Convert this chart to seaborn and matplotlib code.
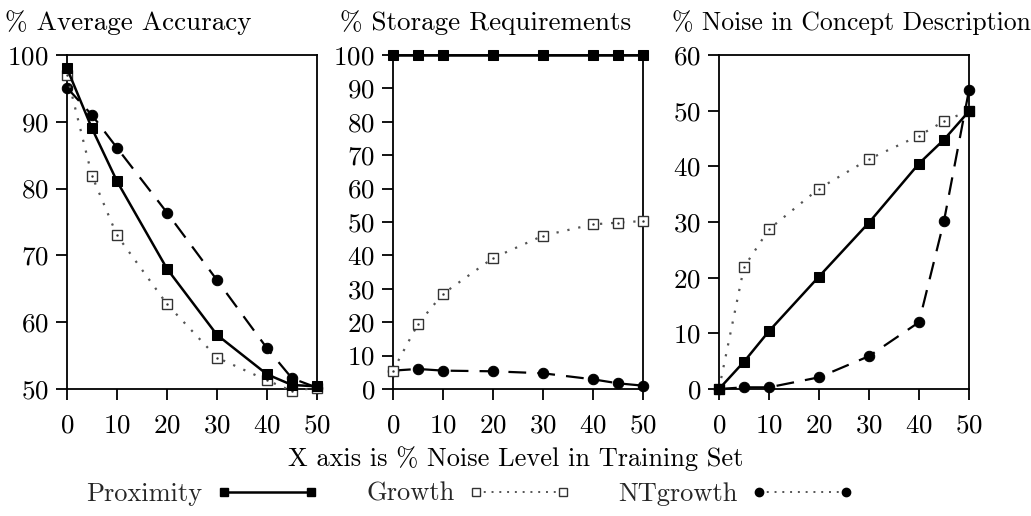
import numpy as np
import pandas as pd
import matplotlib
matplotlib.use("Agg")
import matplotlib.pyplot as plt
import seaborn as sns
from matplotlib.lines import Line2D

sns.set_theme(style="white")
plt.rcParams['font.family'] = ['cmr10', 'DejaVu Serif']
plt.rcParams['axes.formatter.use_mathtext'] = True

noise = [0, 5, 10, 20, 30, 40, 45, 50]

acc_proximity = [98.0, 89.0, 81.1, 68.0, 58.1, 52.2, 50.6, 50.4]
acc_growth = [97.0, 81.9, 73.0, 62.7, 54.7, 51.3, 49.7, 50.2]
acc_ntgrowth = [95.1, 91.0, 86.1, 76.4, 66.3, 56.1, 51.6, 50.2]

sto_proximity = [100, 100, 100, 100, 100, 100, 100, 100]
sto_growth = [5.5, 19.5, 28.5, 39.2, 45.9, 49.3, 49.8, 50.3]
sto_ntgrowth = [5.5, 6.0, 5.5, 5.3, 4.7, 2.9, 1.7, 1.0]

noi_proximity = [0.0, 4.9, 10.4, 20.2, 29.9, 40.5, 44.8, 49.9]
noi_growth = [0.0, 21.9, 28.7, 36.0, 41.3, 45.5, 48.1, 50.0]
noi_ntgrowth = [0.0, 0.3, 0.3, 2.1, 5.9, 12.0, 30.2, 53.7]

titles = ["% Average Accuracy", "% Storage Requirements", "% Noise in Concept Description"]
ylims = [(50, 100), (0, 100), (0, 60)]
yticks = [list(range(50, 101, 10)), list(range(0, 101, 10)), list(range(0, 61, 10))]
xticks = [0, 10, 20, 30, 40, 50]
series_names = ["Proximity", "Growth", "NTgrowth"]
xlabel = "X axis is % Noise Level in Training Set"

panels = [
    (acc_proximity, acc_growth, acc_ntgrowth),
    (sto_proximity, sto_growth, sto_ntgrowth),
    (noi_proximity, noi_growth, noi_ntgrowth),
]

W, H = 1031, 516
fig = plt.figure(figsize=(W / 100, H / 100), dpi=100)

lefts = [67, 393, 719]
title_x = [5, 340, 672]
title_fs = [19.5, 19.5, 18.5]
fs_tick = 19.5
fs2 = 19

for i, (prox, grow, ntg) in enumerate(panels):
    ax = fig.add_axes([lefts[i] / W, (H - 389) / H, 250 / W, 334 / H])
    # NTgrowth: dashed line with filled circles
    sns.lineplot(x=noise, y=ntg, ax=ax, color="black", linestyle=(0, (8, 5)), linewidth=1.6,
                 marker="o", markersize=7.5, markerfacecolor="black", markeredgecolor="black",
                 clip_on=False, zorder=3)
    # Growth: dotted line with open squares having a dot
    sns.lineplot(x=noise, y=grow, ax=ax, color="#555555", linestyle=(0, (1, 4)), linewidth=1.6,
                 marker="s", markersize=7.5, markerfacecolor="white", markeredgecolor="#333333",
                 markeredgewidth=1.0, clip_on=False, zorder=4)
    sns.scatterplot(x=noise, y=grow, ax=ax, color="#333333", s=3, linewidth=0, clip_on=False, zorder=5)
    # Proximity: solid line with filled squares
    sns.lineplot(x=noise, y=prox, ax=ax, color="black", linestyle="-", linewidth=1.8,
                 marker="s", markersize=7.5, markerfacecolor="black", markeredgecolor="black",
                 clip_on=False, zorder=6)

    ax.set_xlim(0, 50)
    ax.set_ylim(*ylims[i])
    ax.set_xticks(xticks)
    ax.set_yticks(yticks[i])
    ax.set_xlabel("")
    ax.set_ylabel("")
    for sp in ax.spines.values():
        sp.set_visible(True)
        sp.set_color("black")
        sp.set_linewidth(1.3)
    ax.tick_params(axis="both", direction="out", length=8, width=1.3, colors="black",
                   labelsize=fs_tick, pad=5, bottom=True, left=True)
    ax.tick_params(axis="x", pad=10)
    fig.text(title_x[i] / W, 1 - 30 / H, titles[i], fontsize=title_fs[i], ha="left", va="baseline",
             color="black")

fig.text(516 / W, 1 - 466 / H, xlabel, fontsize=fs2, ha="center", va="baseline", color="black")

handles = [
    Line2D([0, 1], [0, 0], color="black", linestyle="-", linewidth=1.8, marker="s", markersize=6,
           markerfacecolor="black"),
    Line2D([0, 1], [0, 0], color="#555555", linestyle=(0, (1, 3)), linewidth=1.4, marker="s", markersize=6,
           markerfacecolor="white", markeredgecolor="#333333"),
    Line2D([0, 1], [0, 0], color="#555555", linestyle=(0, (1, 3)), linewidth=1.4, marker="o", markersize=6,
           markerfacecolor="black", markeredgecolor="black"),
]
fig.legend(handles, series_names, loc="center", bbox_to_anchor=(470 / W, 1 - 494 / H), ncol=3,
           frameon=False, fontsize=fs2, handlelength=3.9, numpoints=2, markerfirst=False,
           columnspacing=1.8, handletextpad=0.5)

fig.savefig("out.png", dpi=100, facecolor="white")
